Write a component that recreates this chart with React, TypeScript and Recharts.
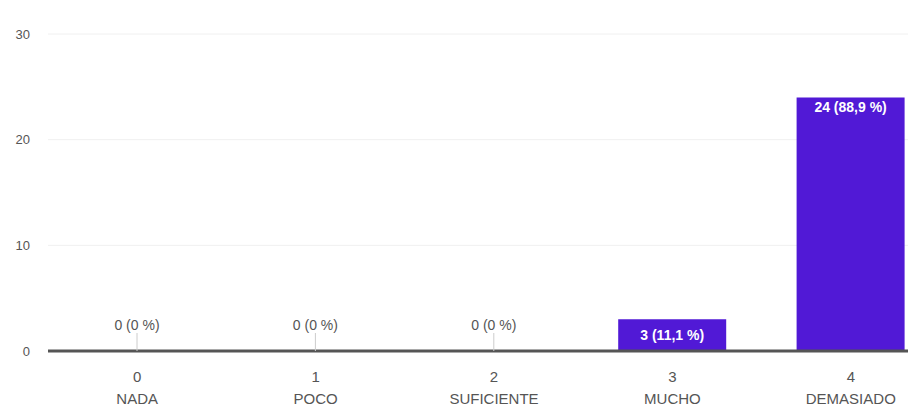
import React from "react";
import { BarChart, Bar, XAxis, YAxis, CartesianGrid, LabelList, Rectangle } from "recharts";

const codes = ["0", "1", "2", "3", "4"];
const names = ["NADA", "POCO", "SUFICIENTE", "MUCHO", "DEMASIADO"];
const counts = [0, 0, 0, 3, 24];
const yTicks = [0, 10, 20, 30];

const total = counts.reduce((a, b) => a + b, 0);
const pct = (v: number) => {
  const p = Math.round((v / total) * 1000) / 10;
  return String(p).replace(".", ",");
};

const data = codes.map((c, i) => ({ code: c, name: names[i], count: counts[i] }));

const FONT = "'Liberation Sans Narrow', 'Liberation Sans', Arial, sans-serif";
const BAR = "#5119d6";

function XTick(props: any) {
  const { x, y, payload, index } = props;
  return (
    <g>
      <text x={x} y={y + 23} textAnchor="middle" fill="#555" fontSize={15} fontFamily={FONT}>
        {payload.value}
      </text>
      <text x={x} y={y + 45} textAnchor="middle" fill="#555" fontSize={15} fontFamily={FONT}>
        {names[index]}
      </text>
    </g>
  );
}

function BarShape(props: any) {
  if (!props.payload || !props.payload.count) return <g />;
  return <Rectangle {...props} />;
}

function BarLabel(props: any) {
  const { x, y, width, height, value } = props;
  const cx = x + width / 2;
  const text = `${value} (${pct(value)} %)`;
  if (!value) {
    const base = y + height;
    return (
      <g>
        <line x1={cx} x2={cx} y1={base - 18} y2={base} stroke="#ccc" strokeWidth={1} />
        <text x={cx} y={base - 21} textAnchor="middle" fill="#555" fontSize={14} fontFamily={FONT}>
          {text}
        </text>
      </g>
    );
  }
  const ty = height < 40 ? y + height / 2 + 5 : y + 15;
  return (
    <text x={cx} y={ty} textAnchor="middle" fill="#fff" fontSize={14} fontWeight="bold" fontFamily={FONT}>
      {text}
    </text>
  );
}

export default function App() {
  return (
    <div style={{ position: "fixed", left: 0, top: 0, width: 908, height: 411, overflow: "hidden", background: "#fff" }}>
      <BarChart
        width={940}
        height={411}
        data={data}
        margin={{ top: 34, right: 0, left: 0, bottom: 0 }}
        barCategoryGap={36}
      >
        <CartesianGrid vertical={false} stroke="#f0f0f0" />
        <XAxis
          dataKey="code"
          height={60}
          tickLine={false}
          axisLine={{ stroke: "#555", strokeWidth: 3 }}
          tick={<XTick />}
          interval={0}
        />
        <YAxis
          width={48}
          domain={[0, 30]}
          ticks={yTicks}
          axisLine={false}
          tickLine={false}
          tickMargin={12}
          tick={{ fill: "#555", fontSize: 13, fontFamily: FONT }}
        />
        <Bar
          dataKey="count"
          fill={BAR}
          barSize={108}
          minPointSize={1}
          shape={<BarShape />}
          isAnimationActive={false}
        >
          <LabelList dataKey="count" content={<BarLabel />} />
        </Bar>
      </BarChart>
    </div>
  );
}
